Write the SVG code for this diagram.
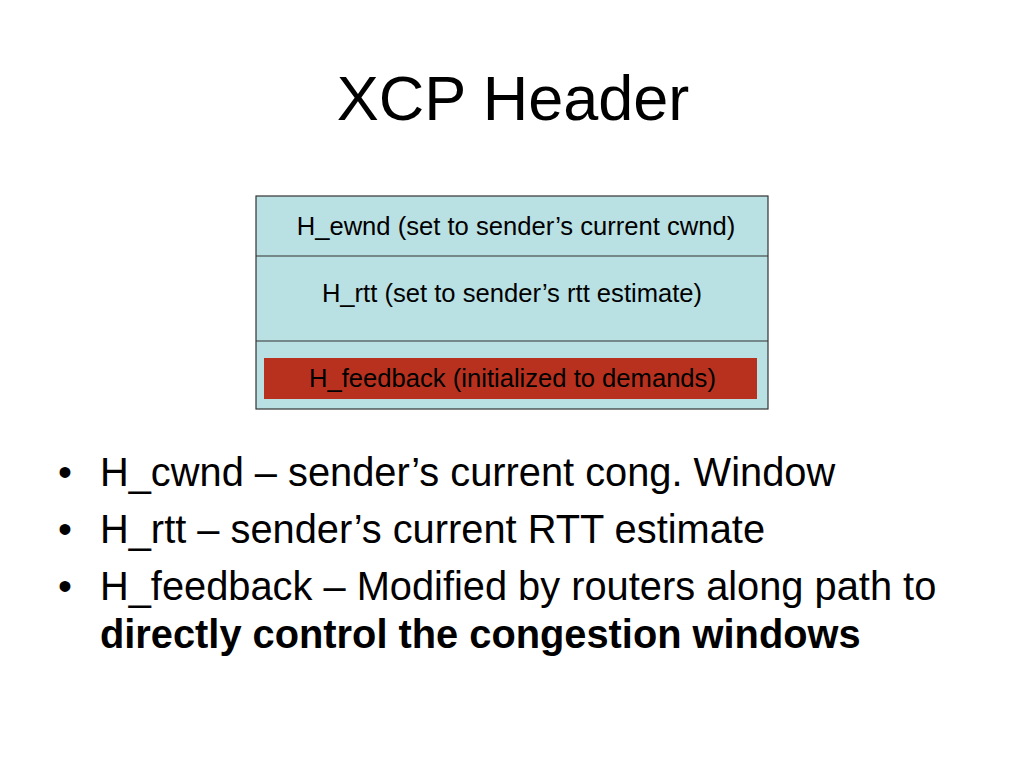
<svg xmlns="http://www.w3.org/2000/svg" width="1024" height="768" viewBox="0 0 1024 768">
<style>
.t{font-family:"Liberation Sans",Arial,sans-serif;fill:#000}
.cell{font-size:25.6px;text-anchor:middle}
.b{font-size:39.8px}
</style>
<rect width="1024" height="768" fill="#fff"/>
<text class="t" x="513" y="120" font-size="63" text-anchor="middle">XCP Header</text>
<g id="header">
<rect x="256" y="196" width="512" height="213" fill="#b9e0e3" stroke="#333" stroke-width="1.2"/>
<line x1="256" y1="256" x2="768" y2="256" stroke="#333" stroke-width="1.2"/>
<line x1="256" y1="341" x2="768" y2="341" stroke="#333" stroke-width="1.2"/>
</g>
<g id="cwnd"><text class="t cell" x="516" y="235">H_ewnd (set to sender’s current cwnd)</text></g>
<g id="rtt"><text class="t cell" x="512" y="302">H_rtt (set to sender’s rtt estimate)</text></g>
<g id="feedback">
<rect x="264" y="358" width="493" height="41" fill="#b8311e"/>
<text class="t cell" x="512.5" y="387">H_feedback (initialized to demands)</text>
</g>
<g id="connectors"/>
<g id="bullets">
<text class="t b" x="58" y="486">•</text><text class="t b" x="100" y="486">H_cwnd – sender’s current cong. Window</text>
<text class="t b" x="58" y="543">•</text><text class="t b" x="100" y="543">H_rtt – sender’s current RTT estimate</text>
<text class="t b" x="58" y="600">•</text><text class="t b" x="100" y="600">H_feedback – Modified by routers along path to</text>
<text class="t b" x="100" y="648" font-weight="bold">directly control the congestion windows</text>
</g>
</svg>
